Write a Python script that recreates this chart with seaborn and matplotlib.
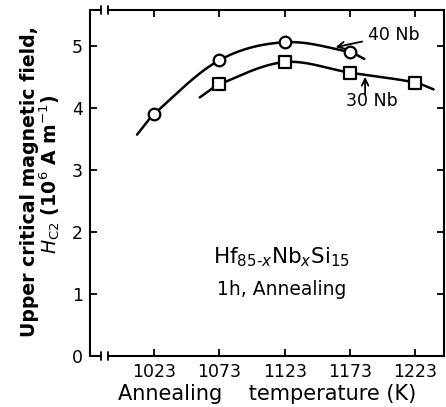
import numpy as np
import pandas as pd
import matplotlib
matplotlib.use("Agg")
import matplotlib.pyplot as plt
import seaborn as sns

# ---- data ----
temps_40 = [1023, 1073, 1123, 1173]
hc2_40 = [3.90, 4.77, 5.06, 4.90]
curve40_ends_x = [1010, 1184]
curve40_ends_y = [3.57, 4.79]

temps_30 = [1073, 1123, 1173, 1223]
hc2_30 = [4.38, 4.74, 4.57, 4.41]
curve30_ends_x = [1058, 1237]
curve30_ends_y = [4.17, 4.30]

xticks = [1023, 1073, 1123, 1173, 1223]
yticks = [0, 1, 2, 3, 4, 5]


def hermite(xs, ys, n=40):
    xs = np.asarray(xs, float)
    ys = np.asarray(ys, float)
    m = np.empty_like(ys)
    m[1:-1] = (ys[2:] - ys[:-2]) / (xs[2:] - xs[:-2])
    m[0] = (ys[1] - ys[0]) / (xs[1] - xs[0])
    m[-1] = (ys[-1] - ys[-2]) / (xs[-1] - xs[-2])
    ox, oy = [], []
    for i in range(len(xs) - 1):
        h = xs[i + 1] - xs[i]
        t = np.linspace(0, 1, n)
        h00 = 2 * t ** 3 - 3 * t ** 2 + 1
        h10 = t ** 3 - 2 * t ** 2 + t
        h01 = -2 * t ** 3 + 3 * t ** 2
        h11 = t ** 3 - t ** 2
        yy = h00 * ys[i] + h10 * h * m[i] + h01 * ys[i + 1] + h11 * h * m[i + 1]
        xx = xs[i] + t * h
        if i > 0:
            xx, yy = xx[1:], yy[1:]
        ox.append(xx)
        oy.append(yy)
    return np.concatenate(ox), np.concatenate(oy)


sns.set_theme(style="ticks")
plt.rcParams['font.family'] = ['DejaVu Sans']
plt.rcParams['text.color'] = 'black'
plt.rcParams['axes.labelcolor'] = 'black'

fig = plt.figure(figsize=(4.46, 4.07), dpi=100)
ax = fig.add_axes([0.2018, 0.1253, 0.9955 - 0.2018, 0.9754 - 0.1253])

for tx, ty, ex, ey, mk in [
    (temps_40, hc2_40, curve40_ends_x, curve40_ends_y, "o"),
    (temps_30, hc2_30, curve30_ends_x, curve30_ends_y, "s"),
]:
    cx, cy = hermite([ex[0]] + tx + [ex[1]], [ey[0]] + ty + [ey[1]])
    df = pd.DataFrame({"x": cx, "y": cy})
    sns.lineplot(data=df, x="x", y="y", sort=False, color="black", lw=1.8, ax=ax, zorder=2)
    sns.scatterplot(x=tx, y=ty, marker=mk, s=70, facecolor="white", edgecolor="black",
                    linewidth=1.6, ax=ax, zorder=3)

ax.set_xlim(974, 1245)
ax.set_ylim(0, 5.58)
ax.set_xticks(xticks)
ax.set_yticks(yticks)
ax.set_xticklabels([str(v) for v in xticks], fontsize=12.5)
ax.set_yticklabels([str(v) for v in yticks], fontsize=12.5)
ax.tick_params(direction="in", length=5, width=1.3, top=True, right=True, pad=5,
               colors="black", labelcolor="black")
for s in ["left", "right"]:
    ax.spines[s].set_linewidth(1.5)
    ax.spines[s].set_color("black")
ax.spines["top"].set_visible(False)
ax.spines["bottom"].set_visible(False)

# axis break on top and bottom spines
bx1 = (101 - 90) / 354
bx2 = (108 - 90) / 354
for yv in [0, 1]:
    ax.plot([0, bx1], [yv, yv], color="black", lw=1.5, transform=ax.transAxes, clip_on=False)
    ax.plot([bx2, 1], [yv, yv], color="black", lw=1.5, transform=ax.transAxes, clip_on=False)
    for bx in [bx1, bx2]:
        ax.plot([bx, bx], [yv - 0.012, yv + 0.012], color="black", lw=1.3,
                transform=ax.transAxes, clip_on=False)

ax.set_xlabel("Annealing    temperature (K)", fontsize=15, labelpad=2, color="black")
ax.set_ylabel("")
fig.text(0.067, 0.553, "Upper critical magnetic field,", rotation=90, ha="center", va="center",
         fontsize=13.6, fontweight="bold")
fig.text(0.112, 0.572, r"$\mathit{H}_{\rm C2}$ (10$^6$ A m$^{-1}$)", rotation=90, ha="center",
         va="center", fontsize=13.6, fontweight="bold")

ax.text(1121, 1.60, r"Hf$_{85\text{-}\mathit{x}}$Nb$_{\mathit{x}}$Si$_{15}$", ha="center", va="center",
        fontsize=15.5)
ax.text(1121, 1.07, "1h, Annealing", ha="center", va="center", fontsize=13.5)

ax.annotate("40 Nb", xy=(1162, 4.98), xytext=(1187, 5.18), fontsize=12.5, ha="left", va="center",
            arrowprops=dict(arrowstyle="->", color="black", lw=1.3, shrinkA=2, shrinkB=0))
ax.annotate("", xy=(1184.6, 4.50), xytext=(1184.6, 4.22),
            arrowprops=dict(arrowstyle="->", color="black", lw=1.3, shrinkA=0, shrinkB=0))
ax.text(1190, 4.11, "30 Nb", fontsize=12.5, ha="center", va="center")

fig.savefig("out.png", dpi=100)
